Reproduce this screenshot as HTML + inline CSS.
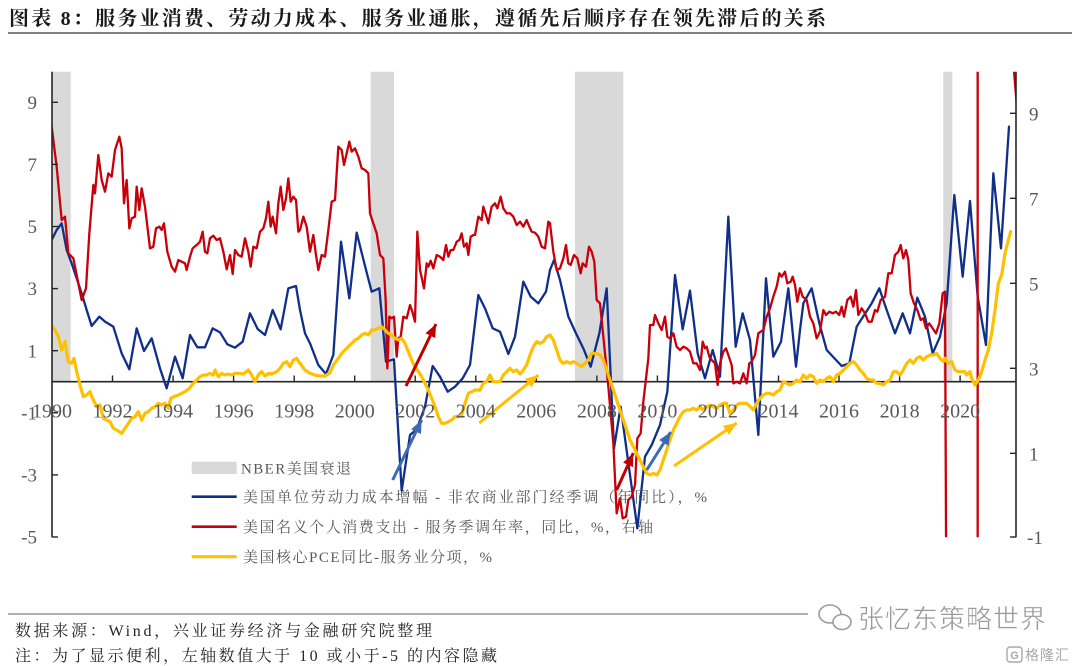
<!DOCTYPE html>
<html><head><meta charset="utf-8">
<style>
html,body{margin:0;padding:0;background:#fff;}
svg{display:block;}
</style></head>
<body>
<svg width="1080" height="666" viewBox="0 0 1080 666" xmlns="http://www.w3.org/2000/svg">
<defs>
  <clipPath id="plot"><rect x="52" y="71.7" width="964" height="465.6"/></clipPath>
  <marker id="mb" markerWidth="13" markerHeight="11" refX="13" refY="5.5" orient="auto" markerUnits="userSpaceOnUse"><path d="M0,0 L13,5.5 L0,11 z" fill="#3d6bb3"/></marker>
  <marker id="mr" markerWidth="13" markerHeight="11" refX="13" refY="5.5" orient="auto" markerUnits="userSpaceOnUse"><path d="M0,0 L13,5.5 L0,11 z" fill="#c00000"/></marker>
  <marker id="my" markerWidth="13" markerHeight="11" refX="13" refY="5.5" orient="auto" markerUnits="userSpaceOnUse"><path d="M0,0 L13,5.5 L0,11 z" fill="#ffc000"/></marker>
</defs>
<rect width="1080" height="666" fill="#fff"/>

<!-- Title -->
<text x="9" y="25" font-family="'Liberation Serif','Noto Serif CJK SC',serif" font-weight="bold" font-size="20" textLength="817" lengthAdjust="spacing" fill="#1a1a1a">图表 8：服务业消费、劳动力成本、服务业通胀，遵循先后顺序存在领先滞后的关系</text>
<line x1="8" y1="33" x2="1072" y2="33" stroke="#7f7f7f" stroke-width="2"/>

<!-- recession bands -->
<g fill="#d9d9d9">
  <rect x="52" y="71.7" width="18.7" height="310"/>
  <rect x="370.7" y="71.7" width="23.3" height="310"/>
  <rect x="575" y="71.7" width="48.3" height="310"/>
  <rect x="943.3" y="71.7" width="9" height="310"/>
</g>

<!-- x axis -->
<line x1="52" y1="381.7" x2="1016" y2="381.7" stroke="#262626" stroke-width="1.6"/>
<g stroke="#262626" stroke-width="1.4">
  <line x1="112.5" y1="375.5" x2="112.5" y2="381.7"/>
  <line x1="173.1" y1="375.5" x2="173.1" y2="381.7"/>
  <line x1="233.6" y1="375.5" x2="233.6" y2="381.7"/>
  <line x1="294.2" y1="375.5" x2="294.2" y2="381.7"/>
  <line x1="354.7" y1="375.5" x2="354.7" y2="381.7"/>
  <line x1="415.2" y1="375.5" x2="415.2" y2="381.7"/>
  <line x1="475.8" y1="375.5" x2="475.8" y2="381.7"/>
  <line x1="536.3" y1="375.5" x2="536.3" y2="381.7"/>
  <line x1="596.9" y1="375.5" x2="596.9" y2="381.7"/>
  <line x1="657.4" y1="375.5" x2="657.4" y2="381.7"/>
  <line x1="717.9" y1="375.5" x2="717.9" y2="381.7"/>
  <line x1="778.5" y1="375.5" x2="778.5" y2="381.7"/>
  <line x1="839" y1="375.5" x2="839" y2="381.7"/>
  <line x1="899.6" y1="375.5" x2="899.6" y2="381.7"/>
  <line x1="960.1" y1="375.5" x2="960.1" y2="381.7"/>
</g>

<!-- series -->
<g clip-path="url(#plot)" fill="none" stroke-linejoin="round" stroke-linecap="round">
  <!-- Group A -->
  <g transform="translate(50,70) scale(0.333333)">
    <path vector-effect="non-scaling-stroke" stroke="#0f2f8a" stroke-width="2.3" d="M0,520 L20,480 L35,460 L50,540 L65,580 L80,625 L95,670 L110,720 L125,768 L148,740 L165,755 L190,770 L215,850 L238,898 L260,775 L282,843 L305,805 L330,895 L350,955 L375,860 L398,925 L420,795 L442,832 L465,832 L488,775 L510,787 L532,823 L555,833 L578,815 L600,730 L623,777 L645,795 L668,720 L692,778 L715,655 L738,648 L750,720"/>
    <path vector-effect="non-scaling-stroke" stroke="#c8000a" stroke-width="2.3" d="M5,170 L20,290 L35,450 L45,440 L55,550 L70,565 L80,615 L95,690 L108,655 L118,490 L130,345 L135,370 L145,255 L155,330 L165,365 L175,310 L185,320 L195,240 L208,200 L215,235 L222,400 L230,330 L238,475 L245,445 L255,440 L260,350 L268,420 L275,355 L285,410 L300,535 L310,530 L318,475 L328,470 L335,480 L342,460 L352,545 L365,590 L375,605 L385,570 L395,575 L405,580 L410,600 L420,560 L428,535 L440,525 L450,515 L458,485 L465,545 L472,550 L480,505 L490,497 L500,510 L510,505 L520,545 L530,598 L540,555 L548,612 L555,540 L565,555 L575,560 L585,505 L595,545 L602,590 L610,530 L620,535 L630,485 L640,475 L648,445 L655,395 L662,470 L668,440 L678,490 L685,400 L692,350 L700,420 L708,385 L715,325 L722,395 L730,380 L738,390 L745,485 L750,480"/>
    <path vector-effect="non-scaling-stroke" stroke="#ffc000" stroke-width="3.2" d="M0,760 L15,780 L25,800 L35,840 L45,815 L55,875 L65,880 L72,865 L80,905 L90,945 L100,980 L110,975 L120,965 L130,990 L140,1010 L150,1005 L160,1045 L170,1050 L180,1055 L190,1075 L200,1080 L215,1090 L225,1075 L235,1060 L245,1045 L255,1040 L265,1025 L275,1050 L285,1030 L295,1025 L305,1015 L315,1010 L325,1000 L335,1005 L345,1000 L355,1015 L362,985 L372,980 L385,975 L395,970 L405,965 L418,955 L430,940 L440,930 L450,920 L460,915 L470,915 L480,910 L490,915 L495,900 L505,920 L515,910 L525,915 L535,912 L545,915 L555,910 L565,910 L580,912 L595,900 L605,915 L615,935 L625,915 L635,905 L645,918 L655,910 L665,912 L680,905 L690,895 L700,880 L710,875 L720,890 L730,870 L740,865 L750,880"/>
  </g>
  <!-- Group B -->
  <g transform="translate(300,70) scale(0.333333)">
    <path vector-effect="non-scaling-stroke" stroke="#0f2f8a" stroke-width="2.3" d="M0,720 L15,790 L30,820 L55,885 L78,912 L100,855 L123,515 L148,685 L170,488 L193,580 L215,665 L238,655 L258,875 L282,868 L305,1262 L330,1095 L350,1078 L375,1010 L398,888 L420,920 L443,965 L465,950 L488,925 L510,885 L535,675 L555,715 L578,775 L600,785 L625,852 L645,800 L670,635 L692,680 L715,700 L738,665 L750,600"/>
    <path vector-effect="non-scaling-stroke" stroke="#c8000a" stroke-width="2.3" d="M0,480 L10,440 L20,470 L30,545 L40,495 L48,555 L55,600 L65,555 L75,560 L85,480 L95,395 L105,390 L115,230 L125,240 L132,285 L140,250 L148,215 L155,245 L165,235 L175,260 L185,295 L195,300 L205,310 L210,430 L220,460 L230,490 L240,555 L250,565 L257,690 L262,895 L268,740 L275,745 L282,740 L290,860 L295,805 L302,800 L310,740 L320,745 L330,705 L337,725 L345,755 L352,485 L360,600 L372,655 L380,580 L385,590 L392,572 L400,595 L410,555 L420,560 L430,570 L438,525 L445,560 L452,540 L460,540 L470,515 L478,510 L485,490 L492,530 L500,520 L505,555 L512,500 L520,495 L525,495 L535,440 L545,450 L550,410 L558,435 L565,460 L575,410 L585,400 L592,415 L602,380 L610,415 L620,430 L630,430 L640,440 L650,465 L660,455 L670,470 L680,450 L688,470 L695,485 L705,488 L715,500 L725,530 L735,535 L745,455 L750,460"/>
    <path vector-effect="non-scaling-stroke" stroke="#ffc000" stroke-width="3.2" d="M0,880 L15,900 L30,910 L45,915 L60,918 L75,918 L90,908 L100,885 L115,865 L125,850 L135,840 L145,830 L155,820 L165,810 L175,805 L185,795 L195,790 L205,795 L215,780 L225,780 L235,775 L245,770 L255,780 L265,790 L275,795 L285,805 L295,810 L305,805 L315,820 L325,845 L335,870 L345,890 L355,905 L365,920 L375,940 L385,960 L395,985 L405,1010 L415,1040 L425,1060 L435,1060 L445,1055 L455,1050 L465,1040 L475,1040 L485,1035 L495,1000 L505,970 L515,965 L525,960 L540,960 L550,940 L560,935 L570,915 L580,935 L590,935 L600,935 L610,915 L620,905 L630,895 L640,905 L650,900 L660,912 L670,900 L680,885 L690,855 L700,830 L710,815 L720,820 L730,815 L740,800 L750,795"/>
  </g>
  <!-- Group C -->
  <g transform="translate(550,70) scale(0.333333)">
    <path vector-effect="non-scaling-stroke" stroke="#0f2f8a" stroke-width="2.3" d="M0,600 L12,570 L30,630 L55,740 L78,790 L100,835 L122,890 L148,790 L170,655 L192,1135 L212,1010 L238,1200 L262,1375 L285,1160 L305,1125 L330,1065 L352,965 L375,615 L398,778 L420,662 L443,850 L465,925 L488,840 L510,920 L535,440 L557,830 L578,730 L600,810 L625,1095 L648,625 L670,860 L693,815 L715,655 L738,890 L750,780"/>
    <path vector-effect="non-scaling-stroke" stroke="#c8000a" stroke-width="2.3" d="M0,460 L10,545 L20,600 L30,595 L40,565 L48,525 L55,580 L62,585 L72,555 L82,565 L92,610 L98,580 L108,590 L117,530 L125,545 L133,575 L140,690 L150,700 L162,820 L175,950 L190,1120 L200,1330 L210,1285 L218,1345 L228,1340 L235,1290 L245,1280 L255,1245 L262,1105 L272,1090 L280,995 L295,865 L300,765 L310,765 L315,735 L325,760 L335,780 L345,740 L352,800 L360,805 L370,790 L380,830 L390,840 L400,830 L410,835 L420,845 L430,880 L440,880 L450,900 L458,815 L465,835 L470,830 L478,860 L485,870 L495,880 L503,945 L510,880 L520,845 L528,835 L535,855 L545,885 L550,940 L560,935 L570,940 L580,910 L590,940 L598,880 L605,875 L615,855 L625,790 L632,785 L640,780 L650,740 L660,715 L670,680 L680,650 L688,610 L695,620 L705,605 L712,640 L722,635 L728,620 L735,645 L742,695 L750,655"/>
    <path vector-effect="non-scaling-stroke" stroke="#ffc000" stroke-width="3.2" d="M0,795 L10,810 L20,840 L30,870 L40,880 L50,875 L60,880 L70,875 L80,880 L95,890 L105,880 L115,870 L125,850 L140,850 L150,855 L160,870 L170,900 L180,930 L190,960 L200,990 L210,1020 L220,1050 L230,1080 L240,1110 L250,1130 L260,1150 L270,1170 L280,1190 L290,1210 L300,1215 L310,1210 L320,1215 L330,1200 L340,1170 L350,1140 L360,1110 L370,1080 L380,1060 L390,1040 L400,1025 L410,1020 L420,1020 L430,1015 L440,1020 L450,1010 L460,1020 L470,1010 L480,1005 L490,1010 L500,1015 L510,1005 L520,1000 L530,1000 L540,1030 L550,1020 L560,1005 L570,1000 L580,1000 L590,1000 L600,1010 L610,1020 L620,1000 L630,985 L640,975 L650,970 L660,970 L670,975 L680,965 L690,960 L700,935 L710,940 L720,945 L730,940 L740,930 L750,935"/>
  </g>
  <!-- Group D -->
  <g transform="translate(790,70) scale(0.333333)">
    <path vector-effect="non-scaling-stroke" stroke="#0f2f8a" stroke-width="2.3" d="M30,780 L40,700 L65,655 L88,760 L110,840 L155,888 L178,880 L200,770 L245,700 L268,655 L290,720 L315,790 L338,730 L360,790 L382,683 L405,740 L428,850 L450,800 L470,700 L493,375 L518,620 L540,393 L563,680 L588,825 L610,310 L633,535 L657,170"/>
    <path vector-effect="non-scaling-stroke" stroke="#c8000a" stroke-width="2.3" d="M30,655 L38,680 L50,690 L60,740 L70,760 L80,805 L90,785 L100,720 L108,735 L118,725 L128,730 L138,725 L148,735 L155,710 L162,740 L172,690 L182,680 L190,710 L198,660 L205,735 L215,715 L225,730 L235,755 L245,755 L255,720 L262,725 L272,690 L285,680 L295,610 L305,610 L315,555 L325,545 L332,525 L340,565 L348,540 L355,570 L362,670 L372,700 L382,720 L392,750 L400,745 L408,775 L418,760 L428,775 L438,790 L448,760 L458,670 L465,665 L469,1600 L563,1600 L563,-200 L655,-200 L680,100"/>
    <path vector-effect="non-scaling-stroke" stroke="#ffc000" stroke-width="3.2" d="M30,935 L40,915 L50,925 L60,915 L70,920 L80,940 L90,930 L100,935 L110,925 L120,920 L130,935 L140,915 L150,910 L160,900 L170,890 L180,880 L190,875 L200,885 L210,900 L220,910 L230,925 L240,930 L250,930 L260,940 L270,940 L280,945 L290,935 L300,930 L310,905 L320,905 L330,915 L340,900 L350,880 L360,870 L370,880 L380,865 L390,860 L400,870 L410,860 L420,855 L430,855 L440,850 L450,865 L460,875 L465,865 L475,880 L485,875 L495,900 L505,905 L515,905 L525,905 L530,915 L540,905 L545,925 L555,945 L565,930 L575,905 L585,870 L595,840 L605,790 L615,720 L625,640 L635,615 L645,550 L655,510 L662,485"/>
  </g>
</g>

<!-- arrows -->
<g fill="none" stroke-width="3" stroke-linecap="butt">
  <line x1="392.7" y1="480" x2="421.7" y2="420" stroke="#3d6bb3" marker-end="url(#mb)"/>
  <line x1="406" y1="386" x2="436" y2="324" stroke="#c00000" marker-end="url(#mr)"/>
  <line x1="479.3" y1="423" x2="538.3" y2="375" stroke="#ffc000" marker-end="url(#my)"/>
  <line x1="616.7" y1="490" x2="633.3" y2="453" stroke="#c00000" marker-end="url(#mr)"/>
  <line x1="646.7" y1="470" x2="670.7" y2="432" stroke="#3d6bb3" marker-end="url(#mb)"/>
  <line x1="674" y1="466" x2="736.7" y2="423" stroke="#ffc000" marker-end="url(#my)"/>
</g>

<!-- left axis -->
<line x1="52" y1="71.7" x2="52" y2="537.3" stroke="#262626" stroke-width="1.6"/>
<g stroke="#262626" stroke-width="1.4">
  <line x1="52" y1="102.3" x2="58" y2="102.3"/>
  <line x1="52" y1="164.4" x2="58" y2="164.4"/>
  <line x1="52" y1="226.5" x2="58" y2="226.5"/>
  <line x1="52" y1="288.6" x2="58" y2="288.6"/>
  <line x1="52" y1="350.7" x2="58" y2="350.7"/>
  <line x1="52" y1="412.8" x2="58" y2="412.8"/>
  <line x1="52" y1="474.9" x2="58" y2="474.9"/>
  <line x1="52" y1="537" x2="58" y2="537"/>
</g>
<g font-family="'Liberation Serif',serif" font-size="19" fill="#595959" text-anchor="end">
  <text x="37" y="109">9</text>
  <text x="37" y="171">7</text>
  <text x="37" y="233">5</text>
  <text x="37" y="295">3</text>
  <text x="37" y="357.5">1</text>
  <text x="37" y="419.5">-1</text>
  <text x="37" y="481.5">-3</text>
  <text x="37" y="543.5">-5</text>
</g>

<!-- right axis -->
<line x1="1016" y1="71.7" x2="1016" y2="537.3" stroke="#262626" stroke-width="1.6"/>
<g stroke="#262626" stroke-width="1.4">
  <line x1="1010" y1="113.3" x2="1016" y2="113.3"/>
  <line x1="1010" y1="198.3" x2="1016" y2="198.3"/>
  <line x1="1010" y1="283.3" x2="1016" y2="283.3"/>
  <line x1="1010" y1="368.3" x2="1016" y2="368.3"/>
  <line x1="1010" y1="453.3" x2="1016" y2="453.3"/>
  <line x1="1010" y1="537" x2="1016" y2="537"/>
</g>
<g font-family="'Liberation Serif',serif" font-size="19" fill="#595959">
  <text x="1029" y="120.5">9</text>
  <text x="1029" y="205.5">7</text>
  <text x="1029" y="290.5">5</text>
  <text x="1029" y="375.5">3</text>
  <text x="1029" y="460.5">1</text>
  <text x="1027" y="544">-1</text>
</g>

<!-- x labels -->
<g font-family="'Liberation Serif',serif" font-size="20" fill="#595959" text-anchor="middle">
  <text x="52" y="417.5">1990</text>
  <text x="112.5" y="417.5">1992</text>
  <text x="173.1" y="417.5">1994</text>
  <text x="233.6" y="417.5">1996</text>
  <text x="294.2" y="417.5">1998</text>
  <text x="354.7" y="417.5">2000</text>
  <text x="415.2" y="417.5">2002</text>
  <text x="475.8" y="417.5">2004</text>
  <text x="536.3" y="417.5">2006</text>
  <text x="596.9" y="417.5">2008</text>
  <text x="657.4" y="417.5">2010</text>
  <text x="717.9" y="417.5">2012</text>
  <text x="778.5" y="417.5">2014</text>
  <text x="839" y="417.5">2016</text>
  <text x="899.6" y="417.5">2018</text>
  <text x="960.1" y="417.5">2020</text>
</g>

<!-- legend -->
<rect x="191.7" y="461.7" width="45" height="12.3" fill="#d9d9d9"/>
<line x1="191.7" y1="496.7" x2="236.7" y2="496.7" stroke="#0f2f8a" stroke-width="2.6"/>
<line x1="191.7" y1="526.7" x2="236.7" y2="526.7" stroke="#c8000a" stroke-width="2.6"/>
<line x1="191.7" y1="556.7" x2="236.7" y2="556.7" stroke="#ffc000" stroke-width="3.2"/>
<g font-family="'Liberation Serif','Noto Serif CJK SC',serif" font-size="15" fill="#595959">
  <text x="241" y="473.5" textLength="110" lengthAdjust="spacing">NBER美国衰退</text>
  <text x="243" y="502" textLength="464" lengthAdjust="spacing">美国单位劳动力成本增幅 - 非农商业部门经季调（年同比），%</text>
  <text x="243" y="532" textLength="410" lengthAdjust="spacing">美国名义个人消费支出 - 服务季调年率，同比，%，右轴</text>
  <text x="243" y="562" textLength="249" lengthAdjust="spacing">美国核心PCE同比-服务业分项，%</text>
</g>

<!-- footer -->
<line x1="8" y1="614" x2="808" y2="614" stroke="#808080" stroke-width="1.2"/>
<g font-family="'Liberation Serif','Noto Serif CJK SC',serif" font-size="16" fill="#262626">
  <text x="15" y="636" textLength="417" lengthAdjust="spacing">数据来源：Wind，兴业证券经济与金融研究院整理</text>
  <text x="15" y="661" textLength="482" lengthAdjust="spacing">注：为了显示便利，左轴数值大于 10 或小于-5 的内容隐藏</text>
</g>

<!-- watermark -->
<g fill="none" stroke="#9a9a9a" stroke-width="1.6">
  <ellipse cx="830" cy="614" rx="11" ry="9"/>
  <ellipse cx="842" cy="622" rx="9" ry="7.5" fill="#fff"/>
</g>
<text x="858" y="628" font-family="'Noto Sans CJK SC',sans-serif" font-size="26" fill="#9a9a9a" textLength="188" lengthAdjust="spacing" stroke="#fff" stroke-width="0.5">张忆东策略世界</text>
<rect x="1007" y="647" width="15" height="15" rx="3" fill="none" stroke="#a8a8a8" stroke-width="1.4"/>
<text x="1014.5" y="659" font-family="'Liberation Sans',sans-serif" font-size="11" font-weight="bold" fill="#a8a8a8" text-anchor="middle">G</text>
<text x="1025" y="660" font-family="'Noto Sans CJK SC',sans-serif" font-size="14" fill="#a8a8a8" textLength="44" lengthAdjust="spacing">格隆汇</text>
</svg>
</body></html>
